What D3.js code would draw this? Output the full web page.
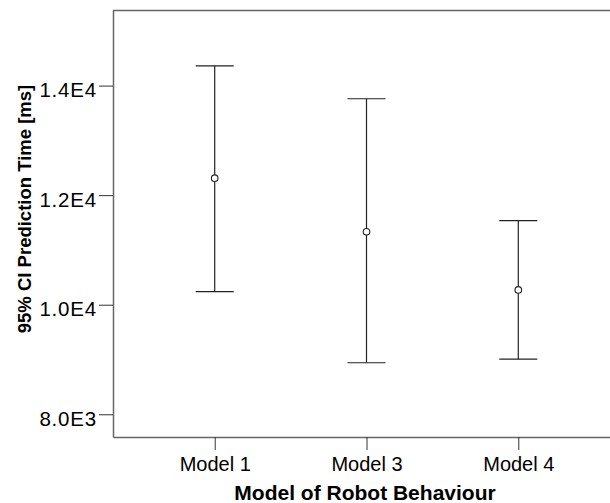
<!DOCTYPE html>
<html>
<head>
<meta charset="utf-8">
<script src="https://cdn.jsdelivr.net/npm/d3@7"></script>
<style>
  html, body { margin: 0; padding: 0; background: #fff; }
  svg { display: block; }
  text { font-family: "Liberation Sans", Arial, sans-serif; fill: #000; }
</style>
</head>
<body>
<svg id="chart" width="610" height="503"></svg>
<script>
// 95% confidence intervals of prediction time per robot behaviour model
const categories = ["Model 1", "Model 3", "Model 4"];
const means = [12310, 11330, 10270];
const lower = [10240, 8940, 9005];
const upper = [14360, 13760, 11535];
const yTicks = [8000, 10000, 12000, 14000];
const yTickLabels = ["8.0E3", "1.0E4", "1.2E4", "1.4E4"];

const svg = d3.select("#chart");
const plotLeft = 113, plotRight = 620, plotTop = 10, plotBottom = 437;

const x = d3.scalePoint().domain(categories).range([plotLeft, plotRight]).padding(0.67);
const y = d3.scaleLinear().domain([7585, 15380]).range([plotBottom, plotTop]);

const axisColor = "#666";
const barColor = "#222";

// top border of the plot frame
svg.append("line").attr("x1", plotLeft).attr("x2", 610)
  .attr("y1", plotTop + 0.5).attr("y2", plotTop + 0.5)
  .attr("stroke", axisColor).attr("stroke-width", 1.5);

// y axis
const yAxis = d3.axisLeft(y).tickValues(yTicks)
  .tickFormat((d, i) => yTickLabels[i]).tickSize(14).tickPadding(2).tickSizeOuter(0);
const gy = svg.append("g").attr("transform", `translate(${plotLeft},0)`).call(yAxis);
gy.select(".domain").attr("stroke", axisColor).attr("stroke-width", 1.5);
gy.selectAll(".tick line").attr("stroke", "#333");
gy.selectAll(".tick text").attr("font-size", 20.5).attr("font-family", null)
  .attr("letter-spacing", "0.8px").attr("dy", "11px").attr("fill", "#000");

// x axis
const xAxis = d3.axisBottom(x).tickSize(13).tickPadding(7).tickSizeOuter(0);
const gx = svg.append("g").attr("transform", `translate(0,${plotBottom})`).call(xAxis);
gx.select(".domain").attr("stroke", axisColor).attr("stroke-width", 1.5);
gx.selectAll(".tick line").attr("stroke", "#333");
gx.selectAll(".tick text").attr("font-size", 20).attr("font-family", null).attr("fill", "#000");

// axis titles
svg.append("text").attr("x", 365).attr("y", 500).attr("text-anchor", "middle")
  .attr("font-size", 21).attr("font-weight", "bold").text("Model of Robot Behaviour");
svg.append("text").attr("transform", "translate(31,209) rotate(-90)")
  .attr("text-anchor", "middle").attr("font-size", 18.5).attr("font-weight", "bold")
  .text("95% CI Prediction Time [ms]");

// error bars with caps and mean markers
const capHalf = 19;
const bars = svg.append("g").selectAll("g").data(categories).join("g");
bars.append("line")
  .attr("x1", d => x(d)).attr("x2", d => x(d))
  .attr("y1", (d, i) => y(upper[i])).attr("y2", (d, i) => y(lower[i]))
  .attr("stroke", barColor).attr("stroke-width", 1.2);
bars.append("line")
  .attr("x1", d => x(d) - capHalf).attr("x2", d => x(d) + capHalf)
  .attr("y1", (d, i) => y(upper[i])).attr("y2", (d, i) => y(upper[i]))
  .attr("stroke", barColor).attr("stroke-width", 1.2);
bars.append("line")
  .attr("x1", d => x(d) - capHalf).attr("x2", d => x(d) + capHalf)
  .attr("y1", (d, i) => y(lower[i])).attr("y2", (d, i) => y(lower[i]))
  .attr("stroke", barColor).attr("stroke-width", 1.2);
bars.append("circle")
  .attr("cx", d => x(d)).attr("cy", (d, i) => y(means[i])).attr("r", 3.3)
  .attr("fill", "#fff").attr("stroke", barColor).attr("stroke-width", 1.1);
</script>
</body>
</html>
